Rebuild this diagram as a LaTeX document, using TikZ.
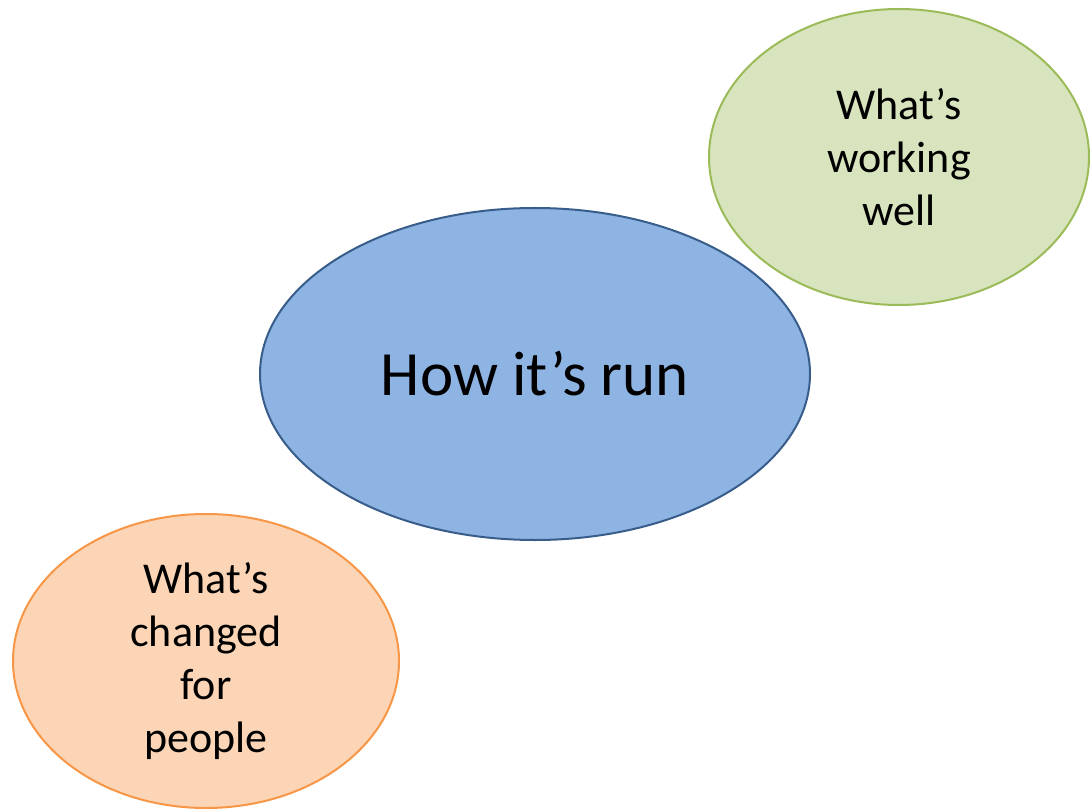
\documentclass[tikz,border=0pt]{standalone}
\usepackage{fontspec}
\setmainfont{Carlito}
\usetikzlibrary{shapes.geometric}
\definecolor{runfill}{HTML}{8EB4E3}
\definecolor{rundraw}{HTML}{385D8A}
\definecolor{wellfill}{HTML}{D7E4BD}
\definecolor{welldraw}{HTML}{9BBB59}
\definecolor{peoplefill}{HTML}{FBD5B5}
\definecolor{peopledraw}{HTML}{F79646}

\begin{document}
\begin{tikzpicture}[x=0.5pt, y=-0.5pt]
  \tikzstyle{bubble}=[ellipse, draw, line width=1pt, inner sep=0pt, align=center,
    font=\fontsize{22}{26.5}\selectfont]
  \useasboundingbox (0,0) rectangle (1091,812);
  \node[bubble, fill=runfill, draw=rundraw, minimum width=275pt, minimum height=166pt,
    font=\fontsize{31.5}{38}\selectfont] (run) at (535,374) {How it’s run};
  \node[bubble, fill=wellfill, draw=welldraw, minimum width=190pt, minimum height=148pt]
    (well) at (899,157) {What’s\\working\\well};
  \node[bubble, fill=peoplefill, draw=peopledraw, minimum width=193pt, minimum height=147pt]
    (people) at (206,661) {What’s\\changed\\for\\people};

\end{tikzpicture}
\end{document}
